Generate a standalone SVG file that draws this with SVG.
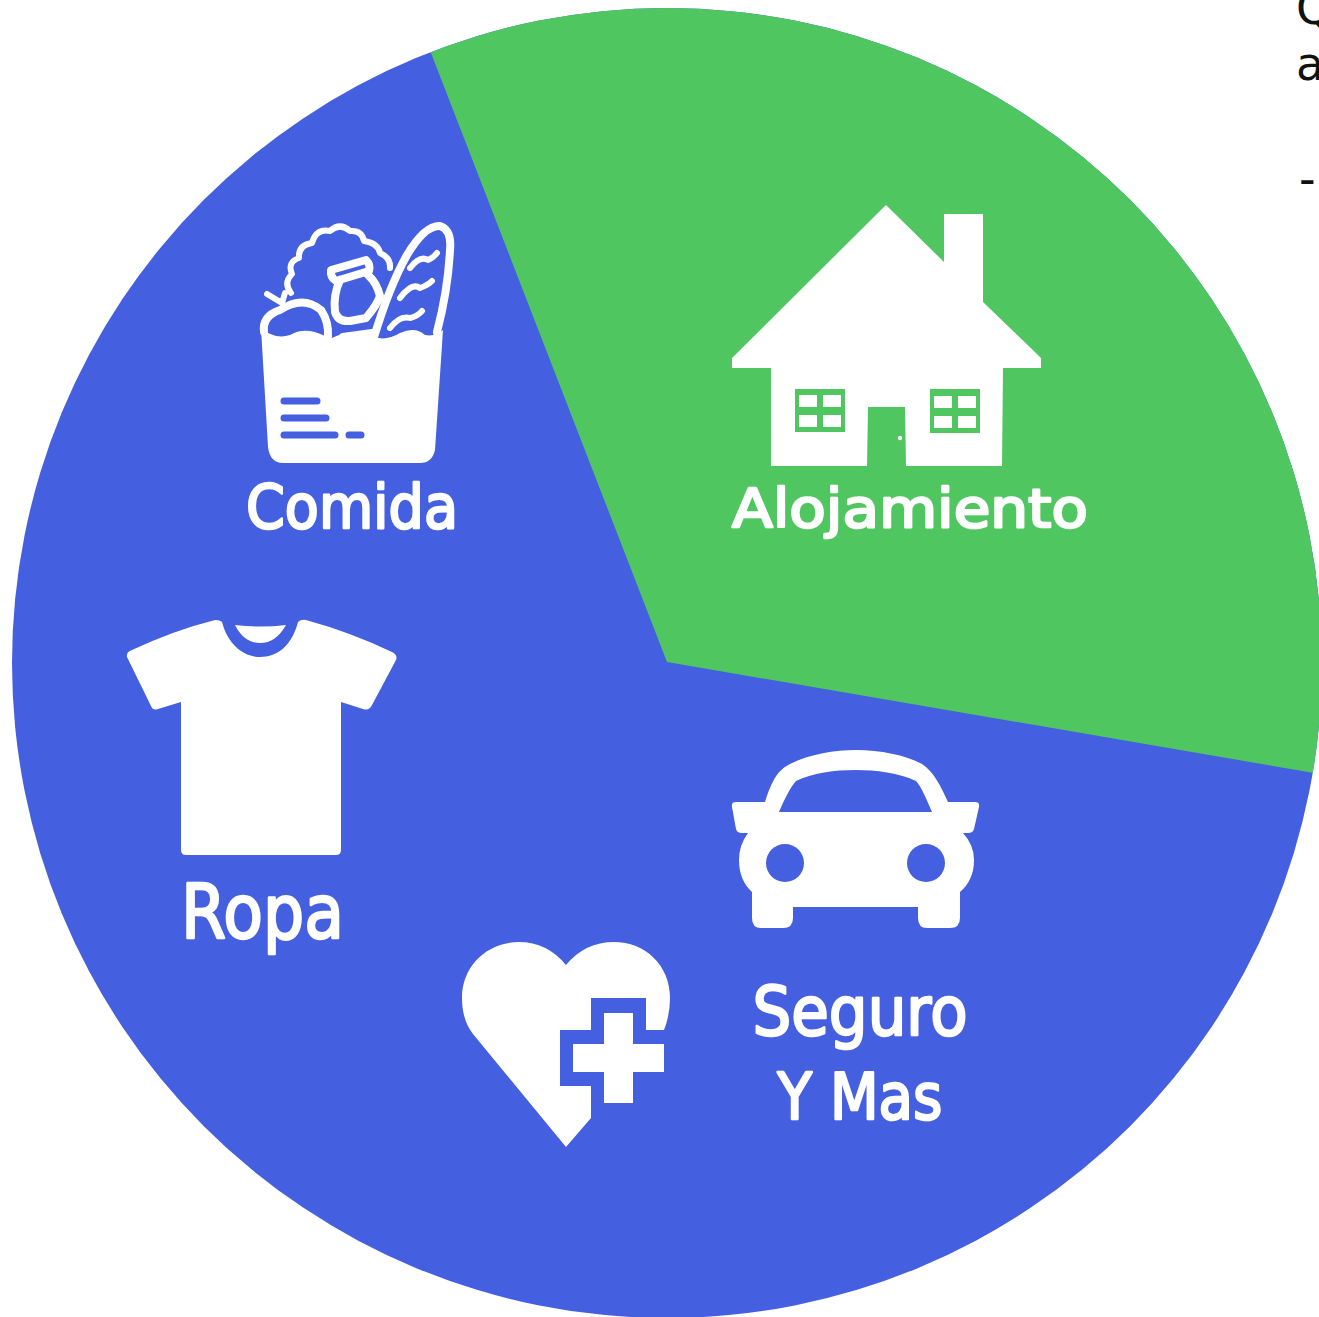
<svg xmlns="http://www.w3.org/2000/svg" width="1319" height="1317" viewBox="0 0 1319 1317">
<style>
.lbl{font-family:"DejaVu Sans","Noto Sans",sans-serif;fill:#fff;stroke:#fff;stroke-width:2.5;stroke-linejoin:round}
.side{font-family:"DejaVu Sans","Open Sans",sans-serif;font-size:46px;fill:#111}
.ol{fill:none;stroke:#fff;stroke-width:8;stroke-linecap:round;stroke-linejoin:round}
.thin{stroke-width:6}
.cut{fill:none;stroke:#445fdf;stroke-width:7;stroke-linecap:round}
.w{fill:#fff}.b{fill:#445fdf}.g{fill:#4fc660}
</style>
<defs><clipPath id="disc"><circle cx="667" cy="663" r="655"/></clipPath></defs>
<rect width="1319" height="1317" fill="#fff"/>
<g id="pie">
<circle class="b" cx="667" cy="663" r="655"/>
<path class="g" clip-path="url(#disc)" d="M431 53L667 662L1314 773L1400 790V-20H403Z"/>
</g>
<g id="alojamiento">
<path class="w" d="M886 205L944 262V214H983V302L1041 358V368H1003L1002 466H906L905 407H868L867 466H771V368H732V358Z"/>
<rect class="g" x="795" y="389" width="50" height="43"/>
<rect class="g" x="930" y="389" width="50" height="44"/>
<path class="w" d="M799 395h18v12h-18zM823 395h18v12h-18zM799 415h18v12h-18zM823 415h18v12h-18zM934 396h18v12h-18zM958 396h18v12h-18zM934 416h18v12h-18zM958 416h18v12h-18z"/>
<circle class="w" cx="900" cy="438" r="2.2"/>
<text class="lbl" x="732" y="527" font-size="54" textLength="356" lengthAdjust="spacingAndGlyphs">Alojamiento</text>
</g>
<g id="comida">
<path class="w" d="M261 328Q275 340 290 335Q305 326 325 336L332 338Q350 328 372 336Q385 342 400 333Q415 326 425 335Q435 337 443 330L435 450Q432 463 420 463H283Q270 463 268 447Z"/>
<path class="ol" d="M264 332Q262 316 280 310Q303 295 321 310Q329 322 328 337"/>
<path class="ol thin" d="M267 294L282 303L285 293"/>
<path class="ol thin" d="M291 293Q283 283 292 274Q287 262 299 258Q298 245 312 243Q316 228 330 231Q340 222 350 231Q362 230 364 241Q378 243 380 253Q391 258 390 268"/>
<path class="ol" d="M331 270L366 260Q371 265 369 271L336 281Q330 277 331 270ZM340 280Q333 295 335 312Q338 322 350 321L366 318Q377 305 380 296Q377 283 368 275M343 337L372 333"/>
<path class="ol" d="M374 337Q390 285 407 255Q425 225 440 226Q452 230 450 250Q448 290 437 332"/>
<path class="ol thin" d="M410 268Q420 255 428 260Q433 258 437 253M400 298Q412 282 420 288Q428 285 432 281M390 328Q400 315 410 318Q418 316 422 311"/>
<path class="cut" d="M284 401H317M284 418H326M284 435H335M349 435H361"/>
<text class="lbl" x="246" y="528" font-size="60" textLength="212" lengthAdjust="spacingAndGlyphs">Comida</text>
</g>
<g id="ropa">
<path class="w" d="M127 657Q126 652 132 650Q175 630 215 620Q220 620 222 622C228 645 244 657 260 657C278 657 292 645 298 622Q301 619 306 620Q350 632 392 652Q398 655 396 660L372 705Q369 711 363 709L341 702V850Q341 855 336 855H186Q181 855 181 850V702L158 709Q153 711 151 706Z"/>
<path class="w" d="M235 625Q261 628 286 625Q276 643 260 643Q244 643 235 625Z"/>
<text class="lbl" x="181" y="938" font-size="74" textLength="163" lengthAdjust="spacingAndGlyphs">Ropa</text>
</g>
<g id="seguro">
<path class="w" fill-rule="evenodd" d="M765 802C772 780 778 770 790 764C810 754 835 750 856 750C880 750 905 755 922 764C934 772 940 785 948 802H975Q980 802 979 807L974 829Q973 833 968 833H963Q974 845 974 860Q974 880 960 892V918Q960 928 950 928H927Q918 928 918 918V907H793V918Q793 928 783 928H761Q752 928 752 918V892Q739 880 739 860Q739 845 748 833H742Q737 833 736 829L732 807Q731 802 736 802ZM779 812H932C926 798 922 788 916 781C900 773 875 770 856 770C835 770 812 773 796 781C790 788 785 798 779 812Z"/>
<circle class="b" cx="785" cy="863" r="19"/>
<circle class="b" cx="926" cy="863" r="19"/>
<path class="w" d="M664 1030H646V998H591V1030H560V1086H591V1118L566 1147L473 1034Q462 1020 462 998C462 965 488 942 519 942Q547 942 566 965Q585 942 614 942C645 942 670 965 670 998Q670 1015 664 1030Z"/>
<path class="w" d="M604 1013H633V1044H664V1072H633V1103H604V1072H573V1044H604Z"/>
<text class="lbl" text-anchor="middle" x="860" y="1035" font-size="68" textLength="215" lengthAdjust="spacingAndGlyphs">Seguro</text>
<text class="lbl" text-anchor="middle" x="860" y="1119" font-size="64" textLength="165" lengthAdjust="spacingAndGlyphs">Y Mas</text>
</g>
<g id="nota">
<text class="side" x="1296" y="24">Q</text>
<text class="side" x="1296" y="80">a</text>
<text class="side" x="1299" y="195">-</text>
</g>
<g id="connectors"/>
</svg>
